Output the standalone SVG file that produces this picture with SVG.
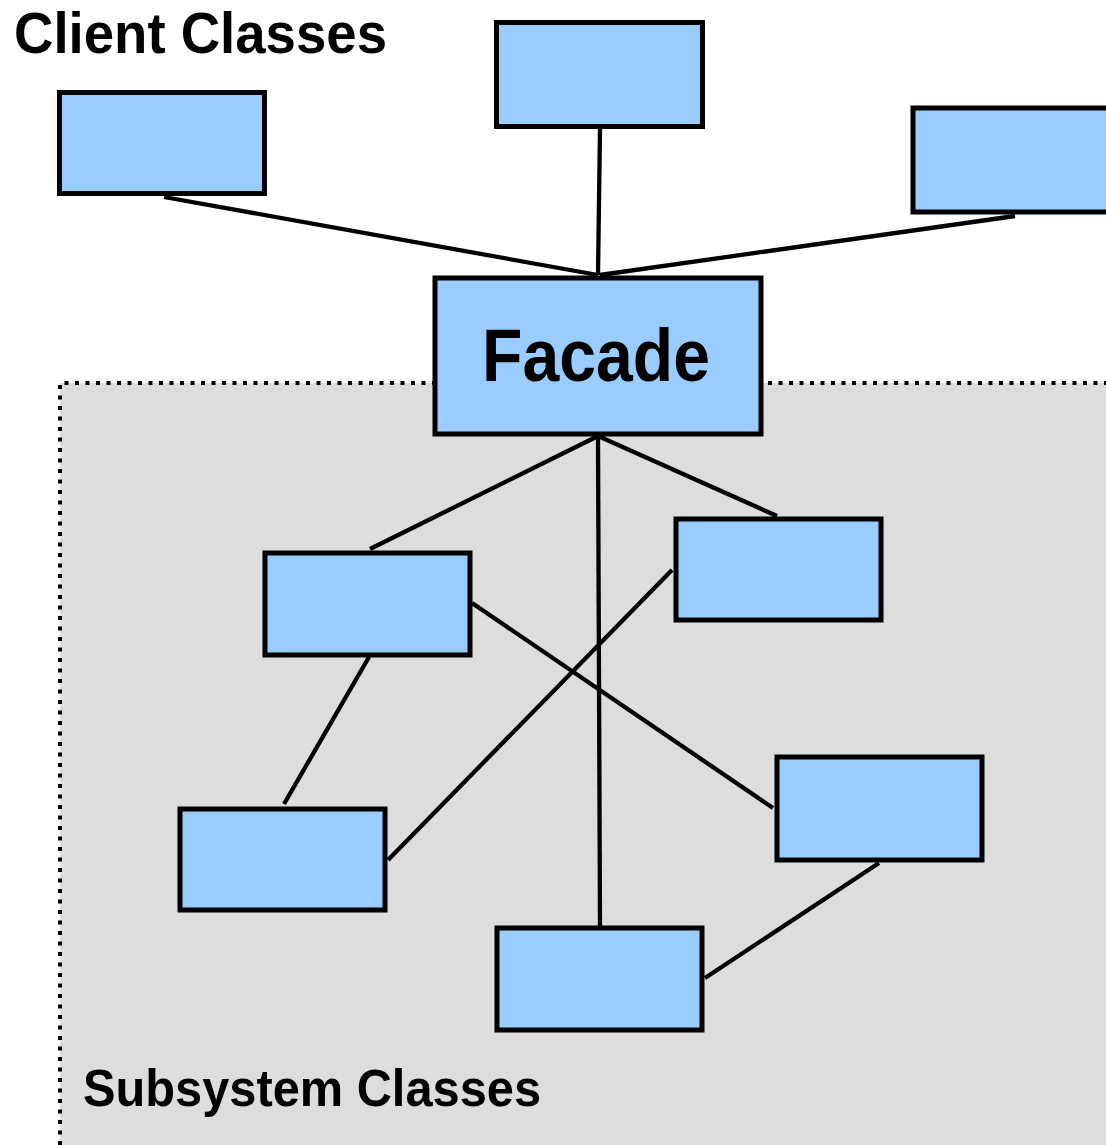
<svg xmlns="http://www.w3.org/2000/svg" width="1106" height="1145" viewBox="0 0 1106 1145">
<style>
.box{fill:#99ccff;stroke:#000;stroke-width:5}
.conn line{stroke:#000;stroke-width:4.3;stroke-linecap:butt}
.lbl{font-family:"Liberation Sans",Arial,sans-serif;font-weight:bold;fill:#000}
</style>
<rect width="1106" height="1145" fill="#ffffff"/>
<g id="subsystem-area">
<rect x="60" y="383" width="1050" height="770" fill="#dddddd"/>
<path d="M60,1145 V383 H1106" fill="none" stroke="#000" stroke-width="4" stroke-dasharray="4 6.5"/>
</g>
<text class="lbl" x="14" y="53" font-size="58" textLength="373" lengthAdjust="spacingAndGlyphs">Client Classes</text>
<text class="lbl" x="83" y="1106" font-size="52" textLength="458" lengthAdjust="spacingAndGlyphs">Subsystem Classes</text>
<g class="conn" id="connectors">
<line x1="164" y1="197" x2="598" y2="275"/>
<line x1="600" y1="129" x2="598" y2="275"/>
<line x1="1015" y1="216" x2="600" y2="275"/>
<line x1="598" y1="436" x2="370" y2="549"/>
<line x1="598" y1="436" x2="777" y2="516"/>
<line x1="598" y1="436" x2="600" y2="926"/>
<line x1="369" y1="657" x2="284" y2="804"/>
<line x1="472" y1="603" x2="773" y2="808"/>
<line x1="672" y1="570" x2="388" y2="860"/>
<line x1="879" y1="863" x2="705" y2="978"/>
</g>
<g id="client1"><rect class="box" x="59.5" y="92.5" width="205" height="101"/></g>
<g id="client2"><rect class="box" x="496.5" y="22.5" width="206" height="104"/></g>
<g id="client3"><rect class="box" x="913" y="108" width="205" height="104"/></g>
<g id="facade">
<rect class="box" x="435" y="278" width="326" height="156"/>
<text class="lbl" x="596" y="381" font-size="74" text-anchor="middle" textLength="228" lengthAdjust="spacingAndGlyphs">Facade</text>
</g>
<g id="subA"><rect class="box" x="265" y="553" width="205" height="102"/></g>
<g id="subB"><rect class="box" x="676" y="519" width="205" height="101"/></g>
<g id="subC"><rect class="box" x="180" y="809" width="205" height="101"/></g>
<g id="subD"><rect class="box" x="777" y="757" width="205" height="103"/></g>
<g id="subE"><rect class="box" x="497" y="928" width="205" height="102"/></g>
</svg>
